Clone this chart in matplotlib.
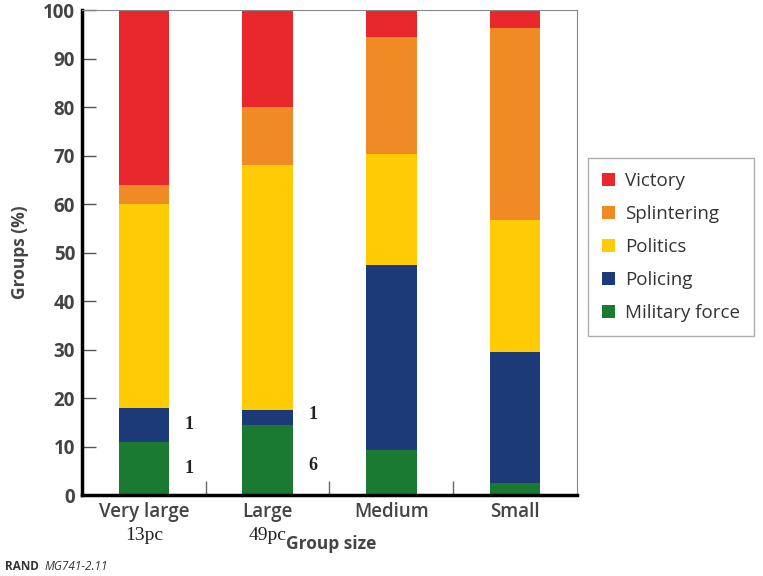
import numpy as np
import matplotlib
matplotlib.use("Agg")
from matplotlib import pyplot as plt

# group size categories and outcome shares (%)
sizes = ["Very large", "Large", "Medium", "Small"]
counts = ["13pc", "49pc", "", ""]
outcomes = ["Military force", "Policing", "Politics", "Splintering", "Victory"]
military = [11, 14.5, 9.3, 2.5]
policing = [7, 3, 38.1, 27]
politics = [42, 50.5, 22.9, 27.2]
splintering = [4, 12, 24.1, 39.6]
victory = [36, 20, 5.6, 3.7]
colors = ["#1b7a32", "#1d3a78", "#ffcb05", "#f08a25", "#e8282c"]

# small counts written next to the bars
notes = [(0, 14.5, "1"), (0, 5.5, "1"), (1, 16.5, "1"), (1, 6, "6")]

plt.rcParams["font.family"] = ["Open Sans", "DejaVu Sans"]
fig = plt.figure(figsize=(7.63, 5.76), dpi=100)
ax = fig.add_axes([0.1075, 0.1406, 0.6485, 0.842])

x = np.arange(len(sizes))
bottom = np.zeros(len(sizes))
series = [military, policing, politics, splintering, victory]
handles = []
for vals, col, name in zip(series, colors, outcomes):
    b = ax.bar(x, vals, width=0.41, bottom=bottom, color=col, label=name)
    handles.append(b)
    bottom += np.array(vals)

for xi, yi, t in notes:
    ax.text(xi + 0.33, yi, t, fontsize=13, family="Liberation Serif",
            fontweight="bold", va="center", ha="left", color="#222222")

ax.set_xlim(-0.5, 3.5)
ax.set_ylim(0, 100)
ax.set_yticks(range(0, 101, 10))
ax.tick_params(axis="y", direction="in", length=10, width=1, color="#555555",
               labelsize=13.5, labelcolor="#444444", pad=5)
for lbl in ax.get_yticklabels():
    lbl.set_fontweight("bold")
ax.set_xticks(x)
ax.set_xticklabels(sizes, fontsize=13.5, color="#444444", fontweight="semibold")
ax.tick_params(axis="x", length=0, pad=5)
ax.set_xticks([0.5, 1.5, 2.5], minor=True)
ax.tick_params(axis="x", which="minor", direction="in", length=10, width=1,
               color="#666666")

for xi, c in zip(x, counts):
    if c:
        ax.text(xi, -8.3, c, fontsize=14, family="Liberation Serif",
                ha="center", va="center", color="#222222")

ax.spines["left"].set_linewidth(2.5)
ax.spines["bottom"].set_linewidth(2.5)
ax.spines["top"].set_color("#888888")
ax.spines["right"].set_color("#888888")

ax.set_ylabel("Groups (%)", fontsize=12.5, fontweight="bold", color="#444444",
              labelpad=10)
fig.text(0.434, 0.055, "Group size", fontsize=12.5, fontweight="bold",
         color="#444444", ha="center", va="center")

leg = fig.legend(handles[::-1], outcomes[::-1], loc="upper left",
                 bbox_to_anchor=(0.771, 0.726), fontsize=13.5, frameon=True,
                 fancybox=False, edgecolor="#999999", handlelength=0.7,
                 handleheight=0.7, labelspacing=0.8, borderpad=0.75,
                 handletextpad=0.5, borderaxespad=0, shadow=False)
for t in leg.get_texts():
    t.set_color("#333333")

fig.text(0.007, 0.017, "RAND", fontsize=8.5, fontweight="bold",
         color="#333333", ha="left", va="center")
fig.text(0.058, 0.017, "MG741-2.11", fontsize=8.5, style="italic",
         color="#333333", ha="left", va="center")

fig.savefig("out.png", dpi=100)
